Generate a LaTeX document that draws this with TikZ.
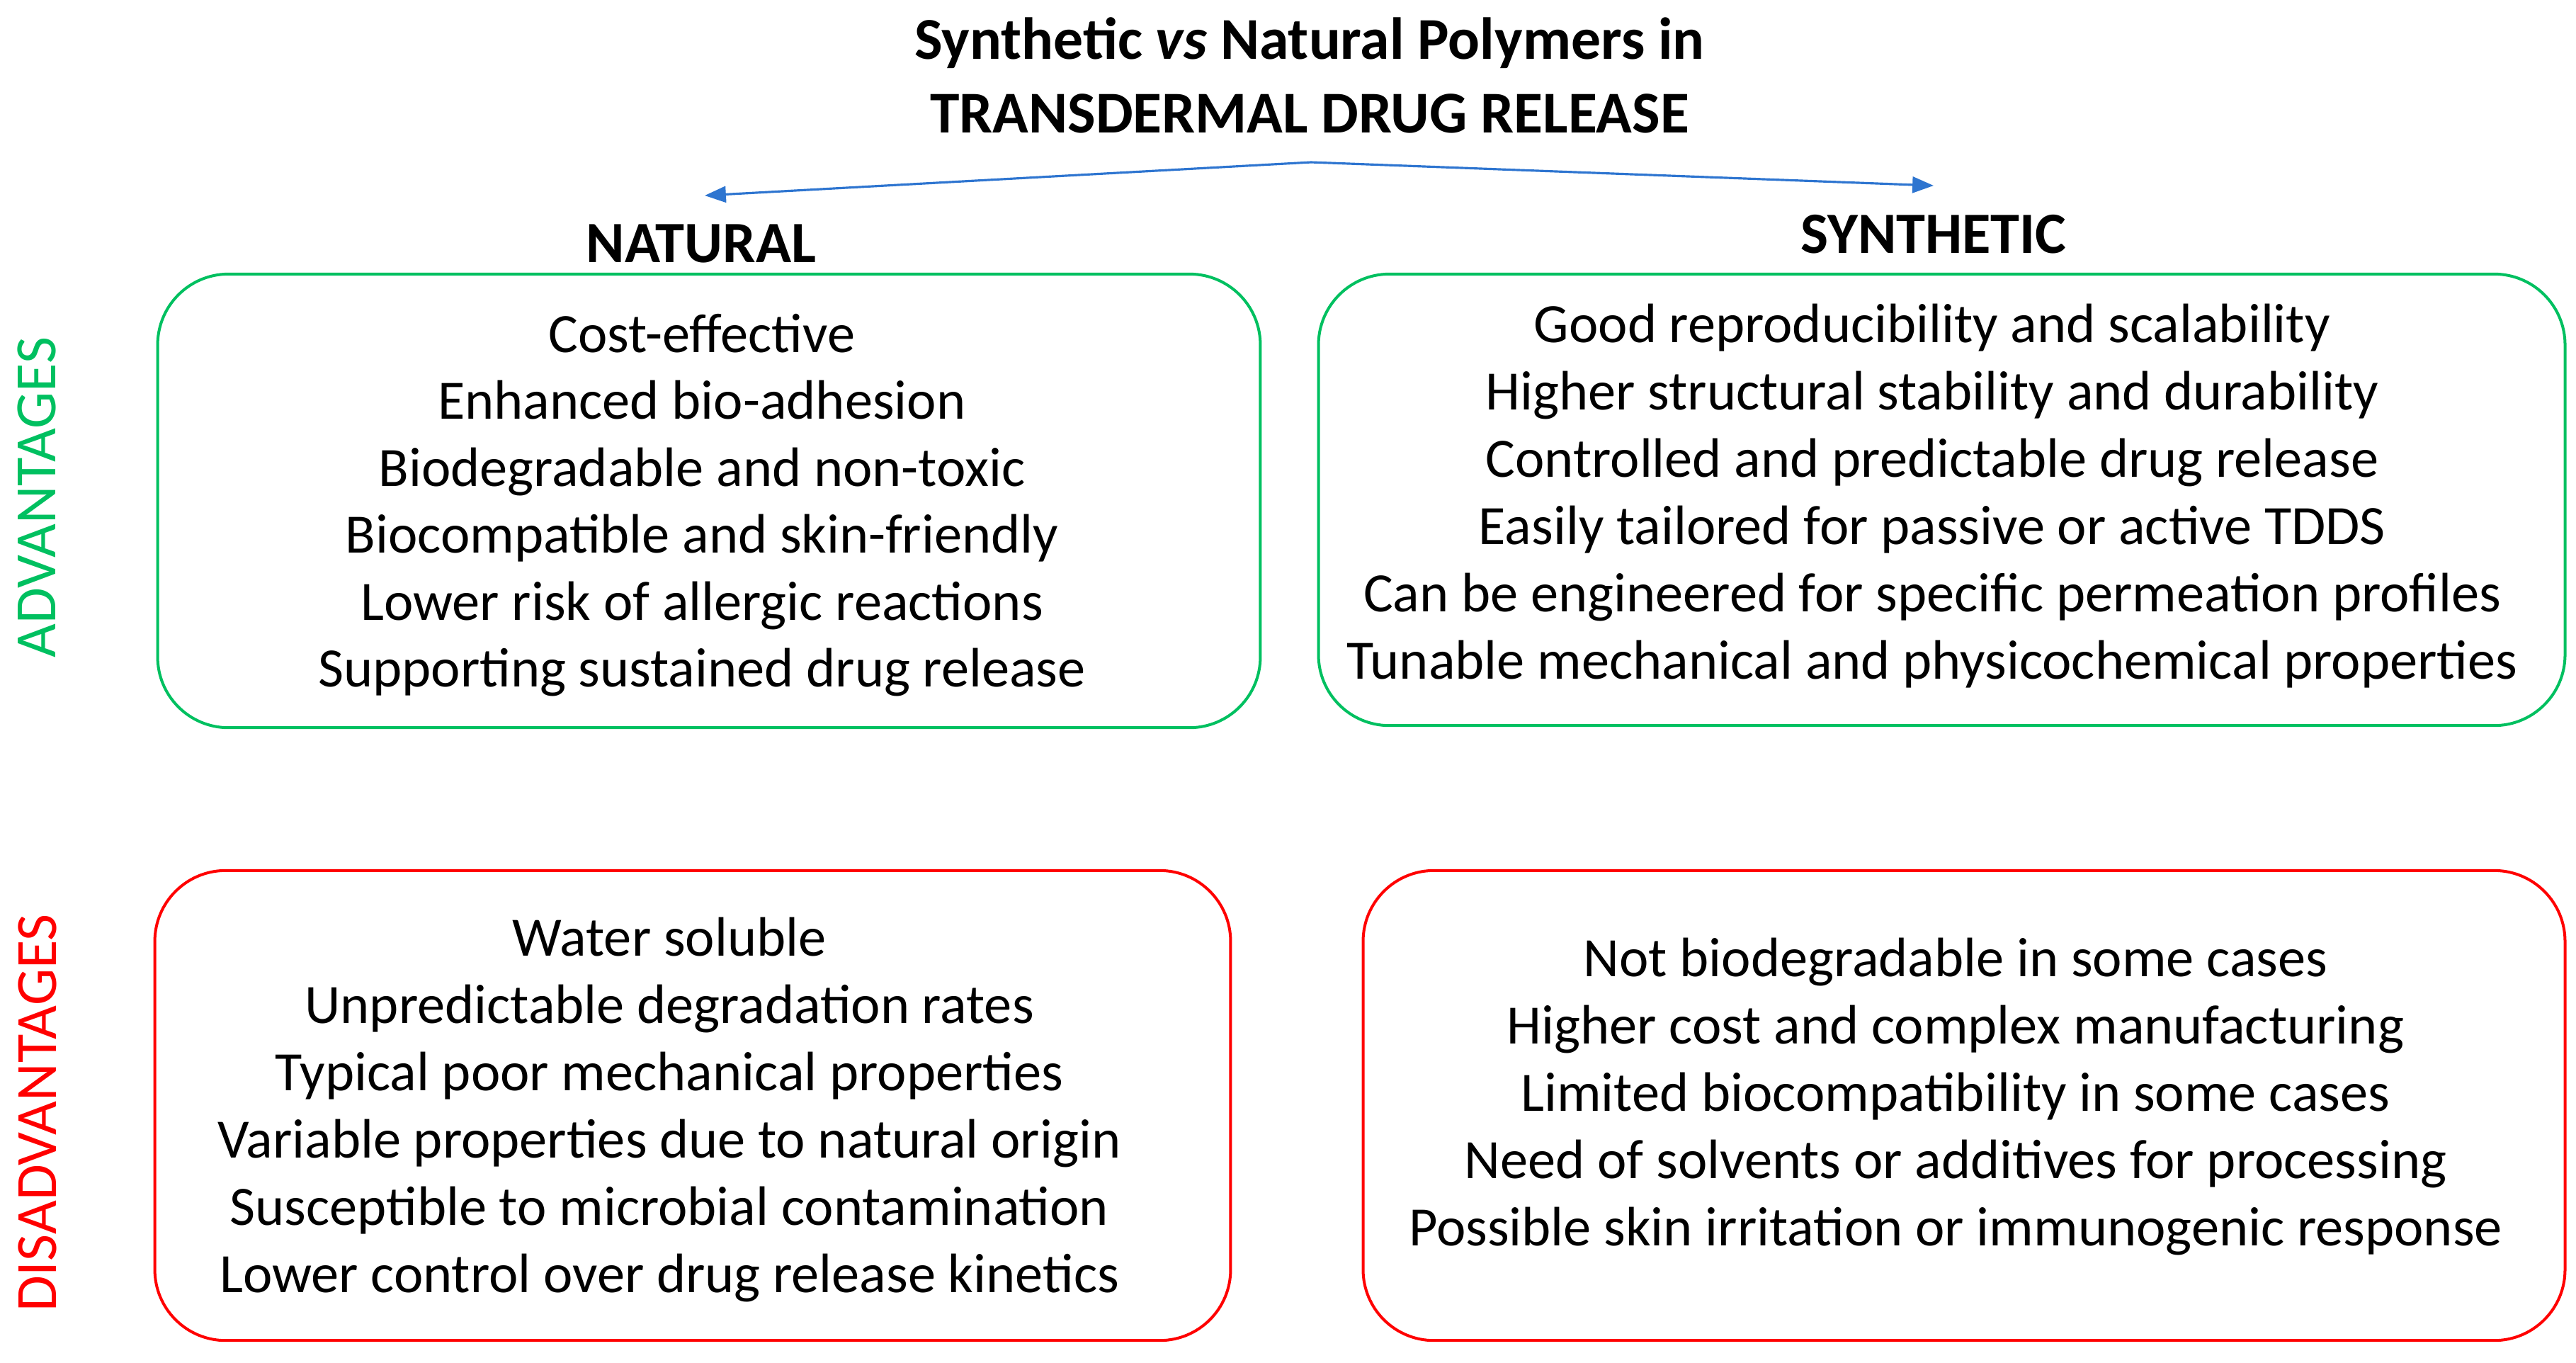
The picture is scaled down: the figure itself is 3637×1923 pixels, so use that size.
\documentclass[tikz,border=0pt]{standalone}
\usepackage{fontspec}
\setmainfont{Carlito}
\usetikzlibrary{arrows.meta}
\definecolor{grn}{RGB}{0,192,96}
\definecolor{rd}{RGB}{255,0,0}
\definecolor{blu}{RGB}{46,117,208}
\begin{document}
\begin{tikzpicture}[x=0.01cm,y=-0.01cm,
  bodytxt/.style={anchor=base, inner sep=0pt, font=\fontsize{22.3}{27}\selectfont},
  titletxt/.style={anchor=base, inner sep=0pt, font=\fontsize{23.8}{29}\selectfont\bfseries},
  headtxt/.style={anchor=base, inner sep=0pt, font=\fontsize{23.5}{29}\selectfont\bfseries},
  sidetxt/.style={rotate=90, inner sep=0pt, font=\fontsize{23.5}{29}\selectfont},
  gbox/.style={draw=grn, line width=1.14pt, rounded corners=1cm, inner sep=0pt},
  rbox/.style={draw=rd, line width=1.14pt, rounded corners=1cm, inner sep=0pt},
  arr/.style={draw=blu, line width=0.9pt, -{Triangle[length=8.5pt,width=6.5pt]}}]
\useasboundingbox (0,0) rectangle (3637,1923);
\fill[white] (0,0) rectangle (3637,1923);

% title
\node[titletxt] (title1) at (1849,83) {Synthetic \textit{vs} Natural Polymers in};
\node[titletxt] (title2) at (1849,187) {TRANSDERMAL DRUG RELEASE};

% arrows
\coordinate (apex) at (1851,229);
\coordinate (ltip) at (995,276);
\coordinate (rtip) at (2730,262);
\draw[arr] (apex) -- (ltip);
\draw[arr] (apex) -- (rtip);

% column heads
\node[headtxt] (nat) at (990,370) {NATURAL};
\node[headtxt] (syn) at (2730,357) {SYNTHETIC};

% side labels
\node[sidetxt, text=grn] (adv) at (52,702) {ADVANTAGES};
\node[sidetxt, text=rd] (dis) at (53,1571) {DISADVANTAGES};

% boxes
\node[gbox, minimum width=15.56cm, minimum height=6.40cm] (tl) at (1001,707) {};
\node[gbox, minimum width=17.59cm, minimum height=6.37cm] (tr) at (2741.5,705.5) {};
\node[rbox, minimum width=15.18cm, minimum height=6.63cm] (bl) at (978,1560.5) {};
\node[rbox, minimum width=16.96cm, minimum height=6.63cm] (br) at (2773,1560.5) {};

% texts
\foreach \t [count=\i] in {Cost-effective, Enhanced bio-adhesion, Biodegradable and non-toxic, Biocompatible and skin-friendly, Lower risk of allergic reactions, Supporting sustained drug release}
  \node[bodytxt] (tl\i) at (991,{497+94.5*(\i-1)}) {\t};

\foreach \t [count=\i] in {Good reproducibility and scalability, Higher structural stability and durability, Controlled and predictable drug release, Easily tailored for passive or active TDDS, Can be engineered for specific permeation profiles, Tunable mechanical and physicochemical properties}
  \node[bodytxt] (tr\i) at (2728,{483+95*(\i-1)}) {\t};

\foreach \t [count=\i] in {Water soluble, Unpredictable degradation rates, Typical poor mechanical properties, Variable properties due to natural origin, Susceptible to microbial contamination, Lower control over drug release kinetics}
  \node[bodytxt] (bl\i) at (945,{1349+95*(\i-1)}) {\t};

\foreach \t [count=\i] in {Not biodegradable in some cases, Higher cost and complex manufacturing, Limited biocompatibility in some cases, Need of solvents or additives for processing, Possible skin irritation or immunogenic response}
  \node[bodytxt] (br\i) at (2761,{1378+95*(\i-1)}) {\t};
\end{tikzpicture}
\end{document}
